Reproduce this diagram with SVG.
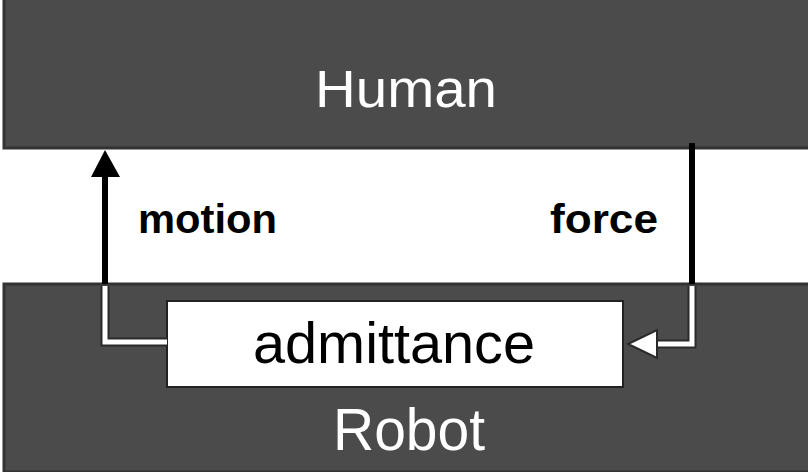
<svg xmlns="http://www.w3.org/2000/svg" width="808" height="472" viewBox="0 0 808 472">
<style>
.box{fill:#4b4b4b;stroke:#333;stroke-width:3}
.lbl{font-family:"Liberation Sans",Arial,sans-serif;text-anchor:middle}
.bold{font-family:"Liberation Sans",Arial,sans-serif;font-size:41px;font-weight:bold;fill:#000}
.blk{stroke:#000;stroke-width:6;fill:none}
.wht{stroke:#fff;stroke-width:5;fill:none}
.wout{stroke:#2a2a2a;stroke-width:9;fill:none}
</style>
<rect width="808" height="472" fill="#fff"/>
<g id="human">
<rect class="box" x="4" y="-2" width="806" height="150"/>
<text class="lbl" x="406" y="107" font-size="51" fill="#fff" textLength="182" lengthAdjust="spacingAndGlyphs">Human</text>
</g>
<g id="robot">
<rect class="box" x="4" y="284" width="806" height="188"/>
<text class="lbl" x="409" y="450" font-size="59" fill="#fff" textLength="152" lengthAdjust="spacingAndGlyphs">Robot</text>
</g>
<g id="admittance">
<rect x="167" y="301" width="456" height="86" fill="#fff" stroke="#222" stroke-width="2"/>
<text class="lbl" x="394" y="363" font-size="57" fill="#000" textLength="282" lengthAdjust="spacingAndGlyphs">admittance</text>
</g>
<g id="connectors">
<polyline class="wout" points="167,342 105,342 105,286"/>
<polyline class="wht" points="167,342 105,342 105,286"/>
<line class="blk" x1="105" y1="284" x2="105" y2="172"/>
<polygon points="105,150 91,177 120,177" fill="#000"/>
<line class="blk" x1="692" y1="143" x2="692" y2="284"/>
<polyline class="wout" points="692,286 692,344 652,344"/>
<polyline class="wht" points="692,286 692,344 652,344"/>
<polygon points="628,344 657,330 657,358" fill="#fff" stroke="#2a2a2a" stroke-width="2"/>
</g>
<g id="labels">
<text class="bold" x="138" y="233" textLength="139" lengthAdjust="spacingAndGlyphs">motion</text>
<text class="bold" x="550" y="233" textLength="108" lengthAdjust="spacingAndGlyphs">force</text>
</g>
</svg>
